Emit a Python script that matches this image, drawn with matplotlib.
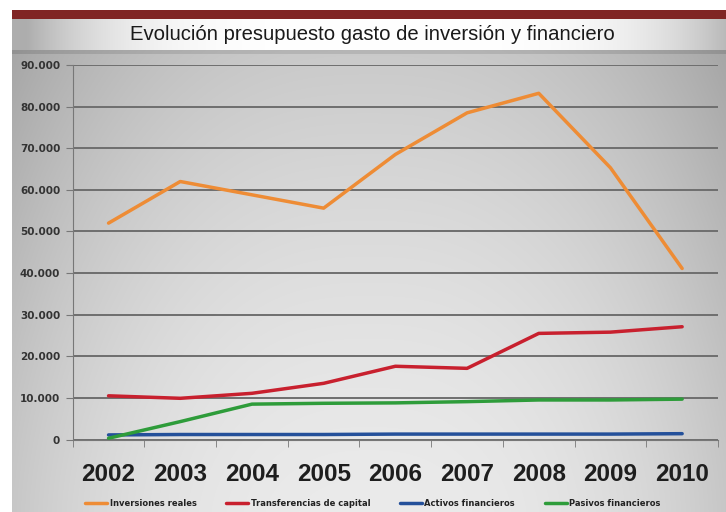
import numpy as np
import matplotlib.pyplot as plt
from matplotlib.ticker import FuncFormatter

years = ['2002', '2003', '2004', '2005', '2006', '2007', '2008', '2009', '2010']
inversiones_reales = [52000, 62000, 58800, 55600, 68500, 78500, 83200, 65300, 41100]
transferencias_capital = [10500, 9900, 11100, 13500, 17600, 17100, 25500, 25800, 27100]
activos_financieros = [1100, 1200, 1200, 1200, 1300, 1300, 1300, 1300, 1400]
pasivos_financieros = [300, 4300, 8500, 8700, 8800, 9100, 9500, 9500, 9700]

series_names = ['Inversiones reales', 'Transferencias de capital',
                'Activos financieros', 'Pasivos financieros']
colors = ['#EE8C35', '#C8202E', '#24509A', '#2E9C3A']

sans = ['Liberation Sans', 'DejaVu Sans']

fig = plt.figure(figsize=(7.26, 5.12), dpi=100)

# background: white margin, red band, title band, grey chart area
bg = fig.add_axes([0, 0, 1, 1], zorder=-10)
bg.set_axis_off()
W, H = 726, 512
img = np.ones((H, W, 3))
xs = np.linspace(0, 1, W - 12)
ys = np.linspace(0, 1, H - 50)
X, Y = np.meshgrid(xs, ys)
g = 0.92 - 0.14 * np.abs((X - 0.5) / 0.5) ** 2.5 - 0.13 * (1 - Y) ** 1.5
g[:4, :] -= 0.08
img[50:, 12:, :] = np.clip(g, 0, 1)[:, :, None]
xt = np.linspace(0, 1, W - 12)
tg = 1 - 0.32 * np.clip(np.abs(xt - 0.52) / 0.5, 0, 1) ** 4
img[19:50, 12:, :] = tg[None, :, None]
img[10:19, 12:, :] = np.array([0x80, 0x25, 0x24]) / 255
bg.imshow(img, extent=[0, 1, 0, 1], aspect='auto', origin='upper')
bg.set_xlim(0, 1)
bg.set_ylim(0, 1)

fig.text(372 / 726, 1 - 35 / 512, 'Evolución presupuesto gasto de inversión y financiero',
         ha='center', va='center', fontsize=14.6, color='#1a1a1a', family=sans)

ax = fig.add_axes([72.7 / 726, 1 - 439.5 / 512, (718 - 72.7) / 726, (439.5 - 65) / 512])
ax.set_facecolor('none')
x = np.arange(len(years))
data = [inversiones_reales, transferencias_capital, activos_financieros, pasivos_financieros]
for vals, c, name in zip(data, colors, series_names):
    ax.plot(x, vals, color=c, lw=2.5, label=name, solid_capstyle='round')

ax.set_xlim(-0.5, len(years) - 0.5)
ax.set_ylim(0, 90000)
ax.set_yticks(np.arange(0, 90001, 10000))
ax.yaxis.set_major_formatter(FuncFormatter(lambda v, p: f'{int(v):,}'.replace(',', '.')))
ax.grid(axis='y', color='#6e6e6e', lw=1.4)
ax.set_axisbelow(True)
ax.set_xticks(x)
ax.set_xticklabels(years, fontsize=17.5, fontweight='bold', color='#1e1e1e', family=sans)
ax.set_xticks(np.arange(-0.5, len(years), 1), minor=True)
ax.tick_params(axis='x', which='major', length=0, pad=17)
ax.tick_params(axis='x', which='minor', length=5, color='#777777')
ax.tick_params(axis='y', length=5, color='#777777', labelsize=7.5, labelcolor='#333333', pad=4)
for lab in ax.get_yticklabels():
    lab.set_fontweight('bold')
for s in ['top', 'right']:
    ax.spines[s].set_visible(False)
ax.spines['left'].set_color('#777777')
ax.spines['bottom'].set_color('#777777')

leg = fig.legend(loc='center left', bbox_to_anchor=(82 / 726, 1 - 503 / 512), ncol=4,
                 frameon=False, fontsize=6, handlelength=2.6, columnspacing=3.6,
                 handletextpad=0.3, borderaxespad=0)
for t in leg.get_texts():
    t.set_fontweight('bold')
    t.set_color('#222222')

fig.savefig('out.png', dpi=100)
